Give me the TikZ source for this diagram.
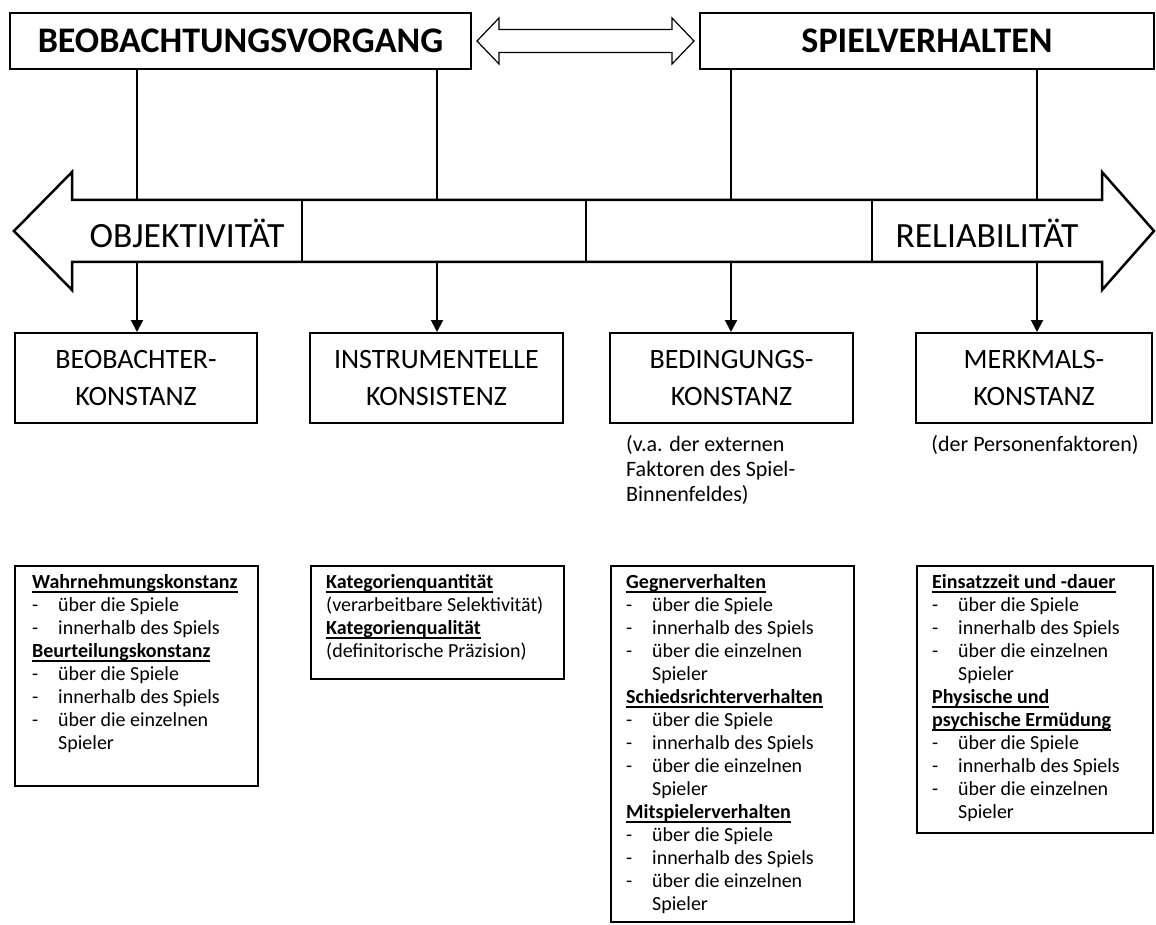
\documentclass[tikz,border=0pt]{standalone}
\usepackage{fontspec}
\setmainfont{Carlito}
\usetikzlibrary{arrows.meta,calc}
\newsavebox{\hdbox}
\newcommand{\itm}[1]{\makebox[26pt][l]{-}#1}
\newcommand{\cnt}[1]{\hspace*{26pt}#1}
\newcommand{\hd}[1]{{\bfseries\sbox{\hdbox}{#1}\rlap{\rule[-4pt]{\wd\hdbox}{1.7pt}}\usebox{\hdbox}}}
\begin{document}
\begin{tikzpicture}[x=1pt,y=-1pt,line join=miter,
  box/.style={draw, line width=2pt, rectangle, inner sep=0pt},
  topbox/.style={box, font=\fontsize{36}{40}\selectfont\bfseries},
  midbox/.style={box, align=center, font=\fontsize{28}{37}\selectfont},
  listbox/.style={draw, line width=2pt, rectangle, inner sep=0pt, anchor=north west},
  listtext/.style={anchor=north west, inner sep=0pt, align=left, font=\fontsize{20}{23}\selectfont},
  subtext/.style={inner sep=0pt, align=left, font=\fontsize{22}{25}\selectfont},
  biglabel/.style={inner sep=0pt, font=\fontsize{35.5}{40}\selectfont},
  conn/.style={line width=2pt},
  arr/.style={conn, -{Triangle[width=12pt,length=12pt]}}
]
\useasboundingbox (0,0) rectangle (1156,925);

% top boxes
\node[topbox, minimum width=461pt, minimum height=56pt] (top1) at (240.5,41) {BEOBACHTUNGSVORGANG};
\node[topbox, minimum width=454pt, minimum height=56pt] (top2) at (927,41) {SPIELVERHALTEN};

% double arrow
\draw[line width=1.2pt, fill=white] ($(top1.east)+(5,0)$) -- ++(22,-23) -- ++(0,11.5)
  -- ($(top2.west)+(-27,-11.5)$) -- ++(0,-11.5) -- ($(top2.west)+(-5,0)$)
  -- ++(-22,23) -- ++(0,-11.5) -- ($(top1.east)+(27,11.5)$) -- ++(0,11.5) -- cycle;

% coordinates on the big arrow
\coordinate (s1) at (137,200); \coordinate (s2) at (437,200);
\coordinate (s3) at (731,200); \coordinate (s4) at (1037,200);
\coordinate (u1) at (137,262); \coordinate (u2) at (437,262);
\coordinate (u3) at (731,262); \coordinate (u4) at (1037,262);

% big arrow
\draw[line width=2.5pt, fill=white] (14,231) -- (72,172) -- (72,200) -- (1102,200) -- (1102,172)
  -- (1154,231) -- (1102,290) -- (1102,262) -- (72,262) -- (72,290) -- cycle;
\node[box, line width=2.5pt, minimum width=284pt, minimum height=62pt] (r1) at (444,231) {};
\node[box, line width=2.5pt, minimum width=286pt, minimum height=62pt] (r2) at (729,231) {};
\node[biglabel] (obj) at (187,233) {OBJEKTIVITÄT};
\node[biglabel] (rel) at (987,233) {RELIABILITÄT};

% middle boxes
\node[midbox, minimum width=242pt, minimum height=90pt] (m1) at (136,378) {BEOBACHTER-\\KONSTANZ};
\node[midbox, minimum width=253pt, minimum height=90pt] (m2) at (436.5,378) {INSTRUMENTELLE\\KONSISTENZ};
\node[midbox, minimum width=243pt, minimum height=90pt] (m3) at (731.5,378) {BEDINGUNGS-\\KONSTANZ};
\node[midbox, minimum width=236pt, minimum height=90pt] (m4) at (1034,378) {MERKMALS-\\KONSTANZ};

% connectors
\draw[conn] (s1 |- top1.south) -- (s1);
\draw[conn] (s2 |- top1.south) -- (s2);
\draw[conn] (s3 |- top2.south) -- (s3);
\draw[conn] (s4 |- top2.south) -- (s4);
\draw[arr] (u1) -- (u1 |- m1.north);
\draw[arr] (u2) -- (u2 |- m2.north);
\draw[arr] (u3) -- (u3 |- m3.north);
\draw[arr] (u4) -- (u4 |- m4.north);

% sub texts
\node[subtext, anchor=north west] (n3) at (626,435) {(v.a. der externen\\Faktoren des Spiel-\\Binnenfeldes)};
\node[subtext, anchor=north] (n4) at (1035,435) {(der Personenfaktoren)};

% bottom boxes
\node[listbox, minimum width=243pt, minimum height=220pt] (b1) at (14,565) {};
\node[listbox, minimum width=253pt, minimum height=113pt] (b2) at (310,565) {};
\node[listbox, minimum width=243pt, minimum height=356pt] (b3) at (610,565) {};
\node[listbox, minimum width=236pt, minimum height=267pt] (b4) at (916,565) {};

\node[listtext] (t1) at ($(b1.north west)+(18,9.5)$) {%
\hd{Wahrnehmungskonstanz}\\
\itm{über die Spiele}\\
\itm{innerhalb des Spiels}\\
\hd{Beurteilungskonstanz}\\
\itm{über die Spiele}\\
\itm{innerhalb des Spiels}\\
\itm{über die einzelnen}\\
\cnt{Spieler}};

\node[listtext] (t2) at ($(b2.north west)+(16,9.5)$) {%
\hd{Kategorienquantität}\\
(verarbeitbare Selektivität)\\
\hd{Kategorienqualität}\\
(definitorische Präzision)};

\node[listtext] (t3) at ($(b3.north west)+(16,9.5)$) {%
\hd{Gegnerverhalten}\\
\itm{über die Spiele}\\
\itm{innerhalb des Spiels}\\
\itm{über die einzelnen}\\
\cnt{Spieler}\\
\hd{Schiedsrichterverhalten}\\
\itm{über die Spiele}\\
\itm{innerhalb des Spiels}\\
\itm{über die einzelnen}\\
\cnt{Spieler}\\
\hd{Mitspielerverhalten}\\
\itm{über die Spiele}\\
\itm{innerhalb des Spiels}\\
\itm{über die einzelnen}\\
\cnt{Spieler}};

\node[listtext] (t4) at ($(b4.north west)+(16,9.5)$) {%
\hd{Einsatzzeit und -dauer}\\
\itm{über die Spiele}\\
\itm{innerhalb des Spiels}\\
\itm{über die einzelnen}\\
\cnt{Spieler}\\
\hd{Physische und}\\
\hd{psychische Ermüdung}\\
\itm{über die Spiele}\\
\itm{innerhalb des Spiels}\\
\itm{über die einzelnen}\\
\cnt{Spieler}};
\end{tikzpicture}
\end{document}
